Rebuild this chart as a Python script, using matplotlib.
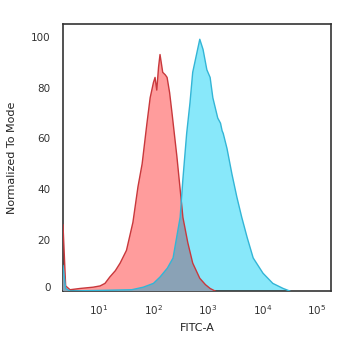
import matplotlib
matplotlib.use("Agg")
import matplotlib.pyplot as plt
import matplotlib.transforms as mtransforms

# Isotype control histogram (FITC-A channel intensity vs. % of mode)
control_fitc = [2.19, 2.45, 2.95, 4.5, 7.8, 10.5, 12.9, 15.8, 20, 24.5, 32, 42, 52, 62,
                76, 87, 100, 107, 115, 124, 132, 148, 165, 178, 198, 219, 269, 309,
                347, 427, 525, 708, 900, 1096, 1350]
control_mode = [26, 2, 0.5, 1, 1.5, 2, 3, 5.5, 8, 11, 16, 27, 41, 50,
                66, 76, 82, 84, 79, 88, 93, 86, 85, 84, 78, 70, 53, 40,
                29, 19, 11, 5, 2.5, 1, 0]

# Antibody-stained sample histogram
stained_fitc = [2.19, 2.45, 2.95, 40, 65, 100, 132, 180, 229, 309, 347, 407, 468,
                525, 631, 708, 813, 955, 1096, 1230, 1514, 1700, 1820, 1905,
                2239, 2754, 3388, 4169, 5248, 6761, 10233, 15488, 23988, 31623]
stained_mode = [10, 1, 0, 0.5, 1.5, 3, 5.5, 9, 13, 29, 44, 62, 74,
                86, 94, 99, 95, 87, 84, 76, 68, 66, 63, 62,
                56, 46, 37, 29, 21, 13, 7, 3, 1, 0]

x_ticks = [10, 100, 1000, 10000, 100000]
x_tick_labels = ["$10^{1}$", "$10^{2}$", "$10^{3}$", "$10^{4}$", "$10^{5}$"]
y_ticks = [0, 20, 40, 60, 80, 100]

fig = plt.figure(figsize=(3.5, 3.43), dpi=100)
ax = fig.add_axes([0.18, 0.1516, 0.7657, 0.7784])
ax.set_xscale("log")
ax.set_xlim(2.19, 1.81e5)
ax.set_ylim(0, 105)

pink = "#ff9c9c"
cyan = "#88e8fa"
overlap = "#8aa2b6"
red_edge = "#c8383c"
blue_edge = "#33b5d6"

def closed(xs, ys):
    return [xs[0]] + list(xs) + [xs[-1]], [0] + list(ys) + [0]

cx, cy = closed(control_fitc, control_mode)
sx, sy = closed(stained_fitc, stained_mode)

red_patch = ax.fill(cx, cy, color=pink, lw=0, zorder=1)[0]
blue_patch = ax.fill(sx, sy, color=cyan, lw=0, zorder=2)[0]
# region shared by both histograms
shared = ax.fill(cx, cy, color=overlap, lw=0, zorder=3)[0]
shared.set_clip_path(blue_patch)

ax.plot(control_fitc, control_mode, color=red_edge, lw=1.0, zorder=4)
ax.plot(stained_fitc, stained_mode, color=blue_edge, lw=1.0, zorder=5)

ax.set_xticks(x_ticks)
ax.set_xticklabels(x_tick_labels)
ax.xaxis.set_minor_locator(matplotlib.ticker.NullLocator())
ax.set_yticks(y_ticks)
ax.set_yticklabels([str(v) for v in y_ticks])
ax.tick_params(axis="both", length=0, labelsize=7.5, labelcolor="#333333")
ax.tick_params(axis="y", pad=9)
ax.tick_params(axis="x", pad=9)

# lift the "0" label clear of the baseline
zero_label = ax.get_yticklabels()[0]
zero_label.set_transform(zero_label.get_transform() +
                         mtransforms.ScaledTranslation(0, 4 / 100, fig.dpi_scale_trans))

for s in ax.spines.values():
    s.set_color("#333333")
    s.set_linewidth(1.2)

ax.set_xlabel("FITC-A", fontsize=8, color="#222222", labelpad=4)
ax.set_ylabel("Normalized To Mode", fontsize=8, color="#222222", labelpad=10)

fig.savefig("out.png", dpi=100)
